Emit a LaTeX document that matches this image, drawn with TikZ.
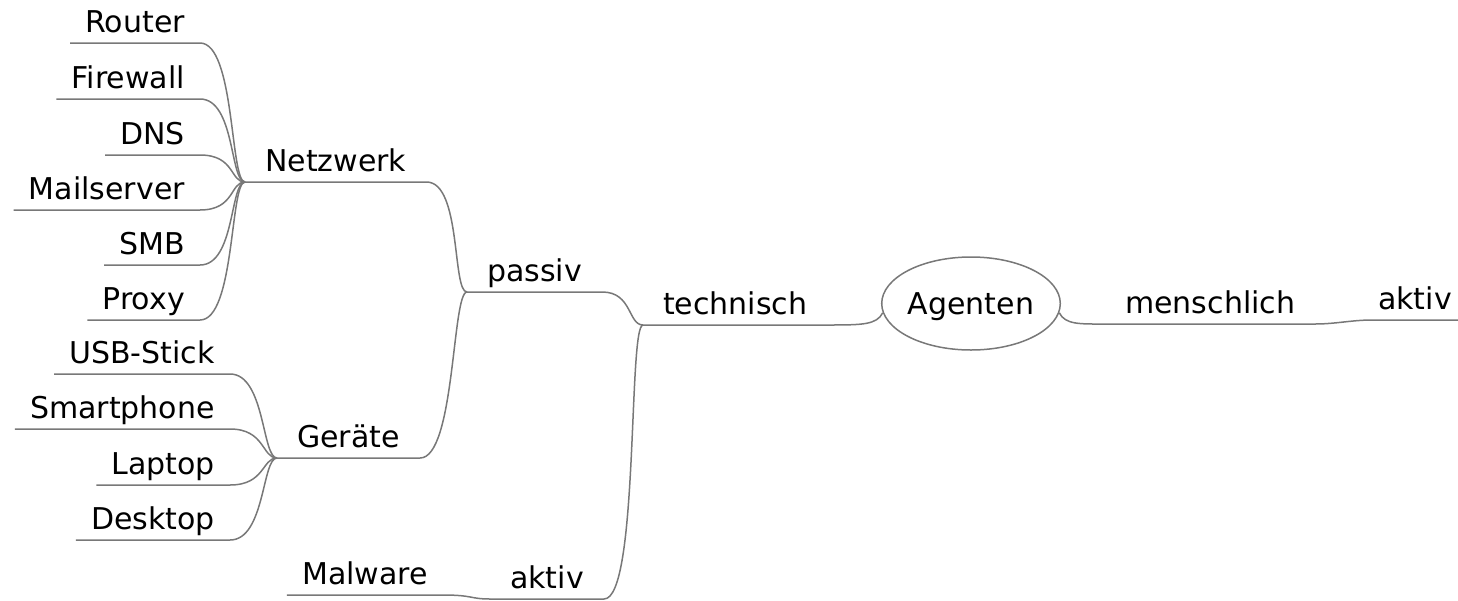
\documentclass[tikz,border=0pt]{standalone}
\usepackage{fontspec}
\setmainfont{DejaVu Sans}
\usepackage{tikz}
\usetikzlibrary{shapes.geometric}
\definecolor{linie}{RGB}{120,120,120}

\begin{document}
\begin{tikzpicture}[x=1pt,y=-1pt,
   thema/.style={font=\fontsize{30pt}{36pt}\selectfont, text height=22pt, text depth=0pt, inner ysep=10pt, inner xsep=20pt},
   blatt/.style={thema, inner xsep=15pt},
   zweig/.style={draw=linie, line width=1.5pt}]
   \useasboundingbox (0,0) rectangle (1458,600);
   \node[thema, ellipse, draw=linie, line width=1.5pt, minimum width=178pt, minimum height=93pt, inner sep=0pt] (agenten) at (971,303.5) {Agenten};
   % linke Seite
   \node[thema, anchor=south west] (technisch) at (643,325) {technisch};
   \node[thema, anchor=south west] (passiv) at (467,292) {passiv};
   \node[thema, anchor=south west] (aktivT) at (490,599) {aktiv};
   \node[thema, anchor=south west] (netzwerk) at (245,182) {Netzwerk};
   \node[thema, anchor=south west] (geraete) at (277,458) {Geräte};
   \node[blatt, anchor=south east] (router) at (200,43) {Router};
   \node[blatt, anchor=south east] (firewall) at (200,99) {Firewall};
   \node[blatt, anchor=south east] (dns) at (200,155) {DNS};
   \node[blatt, anchor=south east] (mailserver) at (200,210) {Mailserver};
   \node[blatt, anchor=south east] (smb) at (200,265) {SMB};
   \node[blatt, anchor=south east] (proxy) at (200,320) {Proxy};
   \node[blatt, anchor=south east] (usb) at (230,374) {USB-Stick};
   \node[blatt, anchor=south east] (smartphone) at (230,429) {Smartphone};
   \node[blatt, anchor=south east] (laptop) at (230,485) {Laptop};
   \node[blatt, anchor=south east] (desktop) at (230,540) {Desktop};
   \node[blatt, anchor=south east] (malware) at (443,595) {Malware};
   % rechte Seite
   \node[thema, anchor=south west] (menschlich) at (1105,324) {menschlich};
   \node[thema, anchor=south east, inner xsep=6pt] (aktivM) at (1458,320) {aktiv};

   \draw[zweig] (router.south west) -- (router.south east) .. controls +(35,0) and +(-15,0) .. (netzwerk.south west);
   \draw[zweig] (firewall.south west) -- (firewall.south east) .. controls +(35,0) and +(-15,0) .. (netzwerk.south west);
   \draw[zweig] (dns.south west) -- (dns.south east) .. controls +(35,0) and +(-15,0) .. (netzwerk.south west);
   \draw[zweig] (mailserver.south west) -- (mailserver.south east) .. controls +(35,0) and +(-15,0) .. (netzwerk.south west);
   \draw[zweig] (smb.south west) -- (smb.south east) .. controls +(35,0) and +(-15,0) .. (netzwerk.south west);
   \draw[zweig] (proxy.south west) -- (proxy.south east) .. controls +(35,0) and +(-15,0) .. (netzwerk.south west);
   \draw[zweig] (usb.south west) -- (usb.south east) .. controls +(35,0) and +(-15,0) .. (geraete.south west);
   \draw[zweig] (smartphone.south west) -- (smartphone.south east) .. controls +(35,0) and +(-15,0) .. (geraete.south west);
   \draw[zweig] (laptop.south west) -- (laptop.south east) .. controls +(35,0) and +(-15,0) .. (geraete.south west);
   \draw[zweig] (desktop.south west) -- (desktop.south east) .. controls +(35,0) and +(-15,0) .. (geraete.south west);
   \draw[zweig] (malware.south west) -- (malware.south east) .. controls +(30,0) and +(-20,0) .. (aktivT.south west);
   \draw[zweig] (netzwerk.south west) -- (netzwerk.south east) .. controls +(35,0) and +(-15,0) .. (passiv.south west);
   \draw[zweig] (geraete.south west) -- (geraete.south east) .. controls +(35,0) and +(-15,0) .. (passiv.south west);
   \draw[zweig] (passiv.south west) -- (passiv.south east) .. controls +(30,0) and +(-15,0) .. (technisch.south west);
   \draw[zweig] (aktivT.south west) -- (aktivT.south east) .. controls +(35,0) and +(-15,0) .. (technisch.south west);
   \draw[zweig] (technisch.south west) -- (technisch.south east) .. controls +(35,0) and +(-6,12) .. (agenten.186);
   \draw[zweig] (agenten.354) .. controls +(6,12) and +(-25,0) .. (menschlich.south west) -- (menschlich.south east) .. controls +(20,0) and +(-20,0) .. (aktivM.south west) -- (aktivM.south east);
\end{tikzpicture}
\end{document}
